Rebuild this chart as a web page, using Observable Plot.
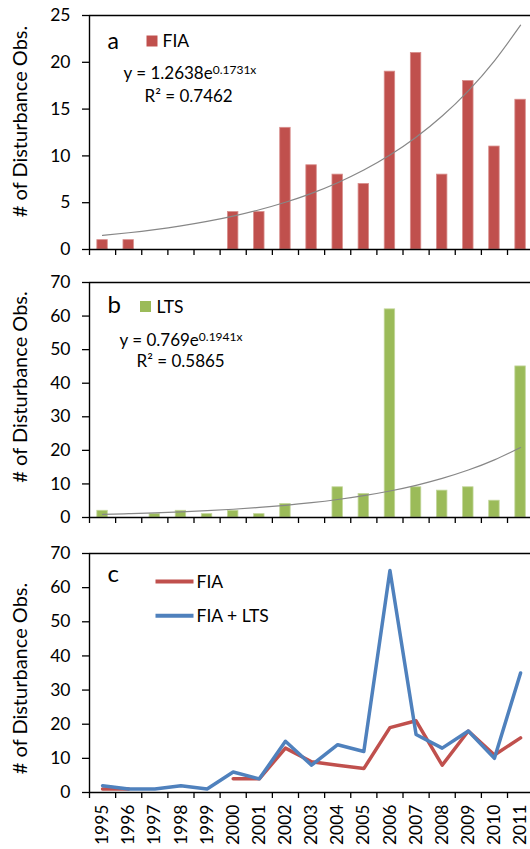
<!DOCTYPE html>
<html><head><meta charset="utf-8">
<script src="https://cdn.jsdelivr.net/npm/d3@7"></script>
<script src="https://cdn.jsdelivr.net/npm/@observablehq/plot@0.6"></script>
<style>
html,body{margin:0;padding:0;background:#fff;overflow:hidden;}
#chart svg{display:block;}
</style></head><body><div id="chart"></div>
<script>
// ---------- data ----------
const years = [1995,1996,1997,1998,1999,2000,2001,2002,2003,2004,2005,2006,2007,2008,2009,2010,2011];
const fiaBars = [1,1,0,0,0,4,4,13,9,8,7,19,21,8,18,11,16];
const ltsBars = [2,0,1,2,1,2,1,4,0,9,7,62,9,8,9,5,45];
const fiaLine = [1,1,null,null,null,4,4,13,9,8,7,19,21,8,18,11,16];
const fiaLtsLine = [2,1,1,2,1,6,4,15,8,14,12,65,17,13,18,10,35];
const yTicksA = [0,5,10,15,20,25];
const yTicksBC = [0,10,20,30,40,50,60,70];
const trendA = [1.2638, 0.1731];
const trendB = [0.769, 0.1941];
const panelLetters = ["a","b","c"];
const seriesNames = ["FIA","LTS","FIA + LTS"];
const eqA = ["y = 1.2638e","0.1731x","R² = 0.7462"];
const eqB = ["y = 0.769e","0.1941x","R² = 0.5865"];
const yTitle = "# of Disturbance Obs.";

// ---------- style ----------
const RED = "#C0504D", GREEN = "#9BBB59", BLUE = "#4F81BD", GRAY = "#878787";
const FONT = "Lato, 'Open Sans', sans-serif";
const W = 530, ML = 89;
const xDomain = [1994.5, 2011.38];
const boundaries = years.map(y => y - 0.5);

const rowsA = years.map((year, i) => ({year, v: fiaBars[i], t: trendA[0] * Math.exp(trendA[1] * (i + 1))}));
const rowsB = years.map((year, i) => ({year, v: ltsBars[i], t: trendB[0] * Math.exp(trendB[1] * (i + 1))}));
const rowsC = years.map((year, i) => ({year, fia: fiaLine[i], both: fiaLtsLine[i]}));

function txt(s, x, base, size, mt, extra = {}) {
  return Plot.text([s], {text: d => d, frameAnchor: "top-left", textAnchor: "start", lineAnchor: "bottom",
    dx: x - ML, dy: base - mt, fontSize: size, fill: "#000", ...extra});
}
function title(dy) {
  return Plot.text([yTitle], {text: d => d, frameAnchor: "left", textAnchor: "middle", lineAnchor: "middle",
    rotate: -90, dx: 20 - ML, dy, fontSize: 20, fill: "#000"});
}
function frameRules(yMax) {
  return [
    Plot.ruleY([yMax], {stroke: "#000", strokeWidth: 1.6}),
    Plot.ruleX([xDomain[0]], {stroke: "#000", strokeWidth: 1.4}),
    Plot.ruleY([0], {stroke: "#000", strokeWidth: 1.4})
  ];
}
function yAxis(ticks) {
  return Plot.axisY(ticks, {tickSize: 7, tickPadding: 12, fontSize: 17.5, label: null, strokeWidth: 1.3});
}
function xBoundTicks() {
  return Plot.axisX(boundaries, {tickSize: 6, tickFormat: () => "", label: null, strokeWidth: 1.3});
}
const legendLine = {draw(ctx) { ctx.moveTo(-19, 0); ctx.lineTo(19, 0); }};

function base(height, mt, mb, yMax, marks) {
  return Plot.plot({
    width: W, height, marginLeft: ML, marginRight: 0, marginTop: mt, marginBottom: mb,
    style: {fontFamily: FONT, fontSize: "17px", color: "#000", background: "#fff", overflow: "visible"},
    x: {type: "linear", domain: xDomain, axis: null},
    y: {domain: [0, yMax], axis: null},
    marks
  });
}

// ---------- panel a ----------
const mtA = 15;
const svgA = base(260, mtA, 11, 25, [
  Plot.rectY(rowsA.filter(d => d.v > 0), {x1: d => d.year - 0.2, x2: d => d.year + 0.2, y: "v", fill: RED, stroke: "#D88E8C", strokeWidth: 0.8}),
  Plot.line(rowsA, {x: "year", y: "t", stroke: GRAY, strokeWidth: 1.2, curve: "natural"}),
  ...frameRules(25),
  yAxis(yTicksA),
  xBoundTicks(),
  title(-11),
  txt(panelLetters[0], 107, 48, 23, mtA),
  Plot.dot([0], {frameAnchor: "top-left", dx: 151.5 - ML, dy: 40.5 - mtA, symbol: "square", r: 6.2, fill: RED, stroke: "none"}),
  txt(seriesNames[0], 162, 46.5, 17.5, mtA),
  txt(eqA[0], 123, 78.5, 17, mtA),
  txt(eqA[2], 144, 101.5, 17, mtA)
]);

// ---------- panel b ----------
const mtB = 22;
const svgB = base(270, mtB, 13, 70, [
  Plot.rectY(rowsB.filter(d => d.v > 0), {x1: d => d.year - 0.2, x2: d => d.year + 0.2, y: "v", fill: GREEN, stroke: "#C2D69A", strokeWidth: 0.8}),
  Plot.line(rowsB, {x: "year", y: "t", stroke: GRAY, strokeWidth: 1.2, curve: "natural"}),
  ...frameRules(70),
  yAxis(yTicksBC),
  xBoundTicks(),
  title(-13),
  txt(panelLetters[1], 107, 52, 24, mtB),
  Plot.dot([0], {frameAnchor: "top-left", dx: 145 - ML, dy: 46 - mtB, symbol: "square", r: 6.2, fill: GREEN, stroke: "none"}),
  txt(seriesNames[1], 156, 52, 17.5, mtB),
  txt(eqB[0], 119, 85.5, 17, mtB),
  txt(eqB[2], 136, 106.5, 17, mtB)
]);

// ---------- panel c ----------
const mtC = 23;
const svgC = base(319, mtC, 57, 70, [
  Plot.line(rowsC, {x: "year", y: "fia", stroke: RED, strokeWidth: 3.5}),
  Plot.line(rowsC, {x: "year", y: "both", stroke: BLUE, strokeWidth: 3.5}),
  ...frameRules(70),
  yAxis(yTicksBC),
  xBoundTicks(),
  Plot.axisX(years, {tickSize: 0, tickPadding: 12, tickRotate: -90, tickFormat: d => String(d), fontSize: 17.5, label: null}),
  title(5.5),
  txt(panelLetters[2], 107, 51, 24, mtC),
  Plot.dot([0], {frameAnchor: "top-left", dx: 174 - ML, dy: 51 - mtC, symbol: legendLine, r: 5, fill: "none", stroke: RED, strokeWidth: 4, strokeLinecap: "butt"}),
  Plot.dot([0], {frameAnchor: "top-left", dx: 174 - ML, dy: 85.3 - mtC, symbol: legendLine, r: 5, fill: "none", stroke: BLUE, strokeWidth: 4, strokeLinecap: "butt"}),
  txt(seriesNames[0], 196, 57, 17.5, mtC),
  txt(seriesNames[2], 196, 91.5, 17.5, mtC)
]);

// superscripts on the trendline equations
function addSup(svg, baseText, sup) {
  svg.querySelectorAll("text").forEach(t => {
    if (t.textContent === baseText) {
      const ts = document.createElementNS("http://www.w3.org/2000/svg", "tspan");
      ts.setAttribute("dy", "-5.5");
      ts.setAttribute("font-size", "12");
      ts.textContent = sup;
      t.appendChild(ts);
    }
  });
}
addSup(svgA, eqA[0], eqA[1]);
addSup(svgB, eqB[0], eqB[1]);

const root = document.getElementById("chart");
root.append(svgA, svgB, svgC);
</script>
</body></html>
